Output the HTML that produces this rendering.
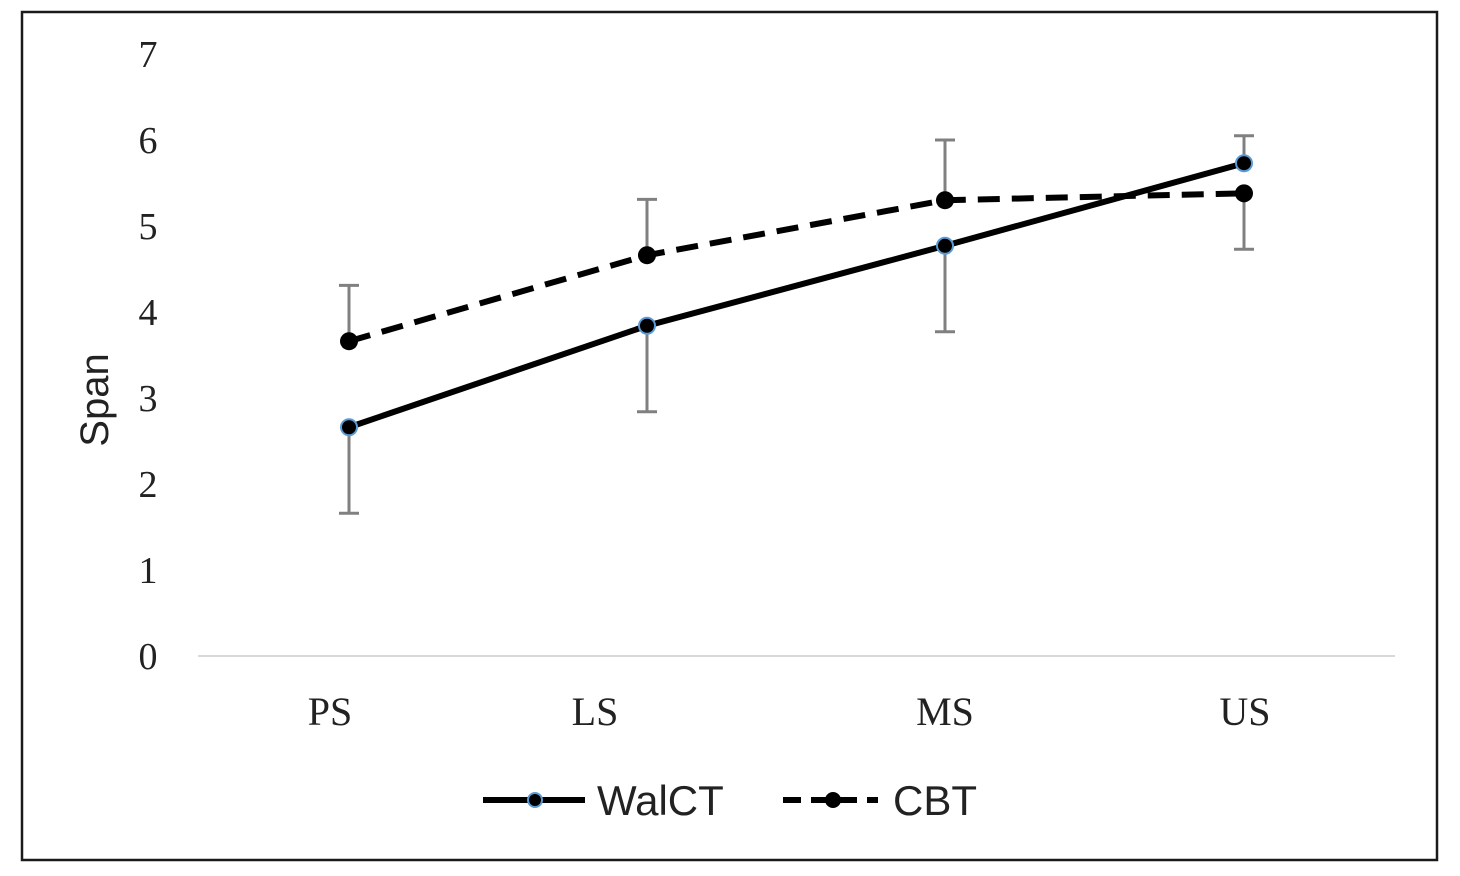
<!DOCTYPE html>
<html><head><meta charset="utf-8">
<style>
html,body{margin:0;padding:0;background:#fff;width:1460px;height:876px;overflow:hidden}
svg{display:block}
</style></head>
<body>
<svg id="chart" width="1460" height="876">
<rect x="22" y="12" width="1415" height="848" fill="#fff" stroke="#1a1a1a" stroke-width="2.5"/>
<g id="g"></g>
</svg>
<script>
const categories = ["PS","LS","MS","US"];
const walctValues = [2.66, 3.84, 4.77, 5.73];
const walctErr = [1.0, 1.0, 1.0, 0.32];
const walctErrDir = [-1, -1, -1, 1];
const cbtValues = [3.66, 4.66, 5.30, 5.38];
const cbtErr = [0.65, 0.65, 0.70, 0.65];
const cbtErrDir = [1, 1, 1, -1];
const yTicks = [0,1,2,3,4,5,6,7];

const NS = "http://www.w3.org/2000/svg";
const g = document.getElementById('g');
const xPos = [349, 647, 945, 1244];
const labelX = [330, 595, 945, 1245];
function x(i){ return xPos[i]; }
function y(v){ return 656 - v*86; }
function mk(tag, attrs, parent){
  const e = document.createElementNS(NS, tag);
  for (const k in attrs) e.setAttribute(k, attrs[k]);
  (parent||g).appendChild(e);
  return e;
}

let gl = mk('line',{x1:198,x2:1395,y1:y(0),y2:y(0),stroke:'#d9d9d9','stroke-width':2});



yTicks.forEach(t=>{
  const e = mk('text',{x:148,y:y(t)+13,'text-anchor':'middle','font-family':'"Liberation Serif",serif','font-size':38,fill:'#222'});
  e.textContent = t;
  
  
});
categories.forEach((c,i)=>{
  const e = mk('text',{x:labelX[i],y:725,'text-anchor':'middle','font-family':'"Liberation Serif",serif','font-size':40,fill:'#222'});
  e.textContent = c;
  
  
});
const yt = mk('text',{x:0,y:0,transform:'translate(108,400) rotate(-90)','text-anchor':'middle','font-family':'"Liberation Sans",sans-serif','font-size':40,fill:'#222'});
yt.textContent = 'Span';



function errBars(vals, errs, dirs, name){
  vals.forEach((v,i)=>{
    const y2 = y(v + dirs[i]*errs[i]);
    const eg = mk('g',{stroke:'#808080','stroke-width':3});
    
    
    mk('line',{x1:x(i),x2:x(i),y1:y(v),y2:y2},eg);
    mk('line',{x1:x(i)-10,x2:x(i)+10,y1:y2,y2:y2},eg);
  });
}
errBars(walctValues, walctErr, walctErrDir, 'walct');
errBars(cbtValues, cbtErr, cbtErrDir, 'cbt');

function series(vals, dash, name, ring){
  const p = mk('polyline',{points:vals.map((v,i)=>x(i)+','+y(v)).join(' '),fill:'none',stroke:'#000','stroke-width':6,'stroke-dasharray':dash});
  
  
  vals.forEach((v,i)=>{
    const c = mk('circle',{cx:x(i),cy:y(v),r:ring?8:9,fill:'#000',stroke:ring?'#5b9bd5':'none','stroke-width':2});
    
    
  });
}
series(walctValues, 'none', 'walct', true);
series(cbtValues, '22,12', 'cbt', false);

const lg = mk('g',{});


mk('line',{x1:483,x2:585,y1:800,y2:800,stroke:'#000','stroke-width':6},lg);
mk('circle',{cx:535,cy:800,r:7,fill:'#000',stroke:'#5b9bd5','stroke-width':2},lg);
const t1 = mk('text',{x:597,y:815,'font-family':'"Liberation Sans",sans-serif','font-size':42,fill:'#222'},lg);
t1.textContent='WalCT';


mk('line',{x1:783,x2:878,y1:800,y2:800,stroke:'#000','stroke-width':6,'stroke-dasharray':'18,10'},lg);
mk('circle',{cx:833,cy:800,r:8,fill:'#000'},lg);
const t2 = mk('text',{x:893,y:815,'font-family':'"Liberation Sans",sans-serif','font-size':42,fill:'#222'},lg);
t2.textContent='CBT';


</script>
</body></html>
